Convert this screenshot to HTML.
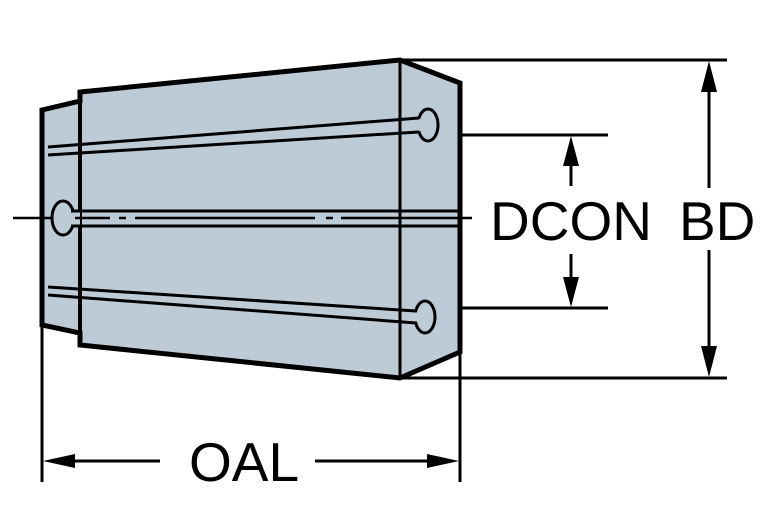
<!DOCTYPE html>
<html><head><meta charset="utf-8"><style>
html,body{margin:0;padding:0;background:#fff;}
svg{display:block;}
text{font-family:"Liberation Sans",sans-serif;font-size:55px;fill:#000;}
</style></head><body>
<svg width="767" height="523" viewBox="0 0 767 523" xmlns="http://www.w3.org/2000/svg">
<polygon points="42,110 80,101 80,92 400,60 460,83 460,352 400,378 80,345 80,333 42,325" fill="#bccbd6" stroke="#000" stroke-width="5" stroke-linejoin="miter"/>
<line x1="80" y1="94" x2="80" y2="344" stroke="#000" stroke-width="4"/>
<line x1="400" y1="60" x2="400" y2="378" stroke="#000" stroke-width="3"/>
<!-- top slot -->
<ellipse cx="428" cy="125" rx="10" ry="16" fill="#bccbd6" stroke="#000" stroke-width="3"/>
<polygon points="412,119.5 420,119 420,131 412,131.5" fill="#bccbd6"/>
<line x1="48" y1="147" x2="419" y2="118" stroke="#000" stroke-width="3"/>
<line x1="48" y1="155" x2="419" y2="132" stroke="#000" stroke-width="3"/>
<!-- bottom slot -->
<ellipse cx="425" cy="317" rx="10" ry="16" fill="#bccbd6" stroke="#000" stroke-width="3"/>
<polygon points="408,312 417,312.5 417,321.5 408,321" fill="#bccbd6"/>
<line x1="48" y1="287" x2="416" y2="311" stroke="#000" stroke-width="3"/>
<line x1="48" y1="295" x2="416" y2="323" stroke="#000" stroke-width="3"/>
<!-- middle slot -->
<ellipse cx="63" cy="218" rx="11" ry="17" fill="#bccbd6" stroke="#000" stroke-width="3"/>
<rect x="70" y="212.5" width="10" height="12" fill="#bccbd6"/>
<line x1="71" y1="211" x2="458" y2="211" stroke="#000" stroke-width="3"/>
<line x1="71" y1="226" x2="458" y2="226" stroke="#000" stroke-width="3"/>
<!-- center line -->
<g stroke="#000" stroke-width="2.5">
<line x1="13" y1="218" x2="51" y2="218"/>
<line x1="75" y1="218" x2="110" y2="218"/>
<line x1="119" y1="218" x2="126" y2="218"/>
<line x1="135" y1="218" x2="315" y2="218"/>
<line x1="326" y1="218" x2="333" y2="218"/>
<line x1="341" y1="218" x2="472" y2="218"/>
</g>
<!-- OAL -->
<line x1="42" y1="325" x2="42" y2="482" stroke="#000" stroke-width="3"/>
<line x1="460" y1="352" x2="460" y2="482" stroke="#000" stroke-width="3"/>
<line x1="60" y1="461" x2="160" y2="461" stroke="#000" stroke-width="3"/>
<line x1="315" y1="461" x2="442" y2="461" stroke="#000" stroke-width="3"/>
<polygon points="43,461 75,454 75,468"/>
<polygon points="459,461 427,454 427,468"/>
<text x="189" y="481">OAL</text>
<!-- BD -->
<line x1="400" y1="60" x2="727" y2="60" stroke="#000" stroke-width="3"/>
<line x1="400" y1="378" x2="727" y2="378" stroke="#000" stroke-width="3"/>
<line x1="709" y1="75" x2="709" y2="188" stroke="#000" stroke-width="3"/>
<line x1="709" y1="250" x2="709" y2="362" stroke="#000" stroke-width="3"/>
<polygon points="709,61 701,92 717,92"/>
<polygon points="709,377 701,346 717,346"/>
<text x="679" y="240">BD</text>
<!-- DCON -->
<line x1="462" y1="135" x2="608" y2="135" stroke="#000" stroke-width="3"/>
<line x1="462" y1="308" x2="608" y2="308" stroke="#000" stroke-width="3"/>
<line x1="571" y1="150" x2="571" y2="186" stroke="#000" stroke-width="3"/>
<line x1="571" y1="254" x2="571" y2="294" stroke="#000" stroke-width="3"/>
<polygon points="571,136 563,166 579,166"/>
<polygon points="571,307 563,277 579,277"/>
<text x="490" y="240">DCON</text>
</svg>
</body></html>
